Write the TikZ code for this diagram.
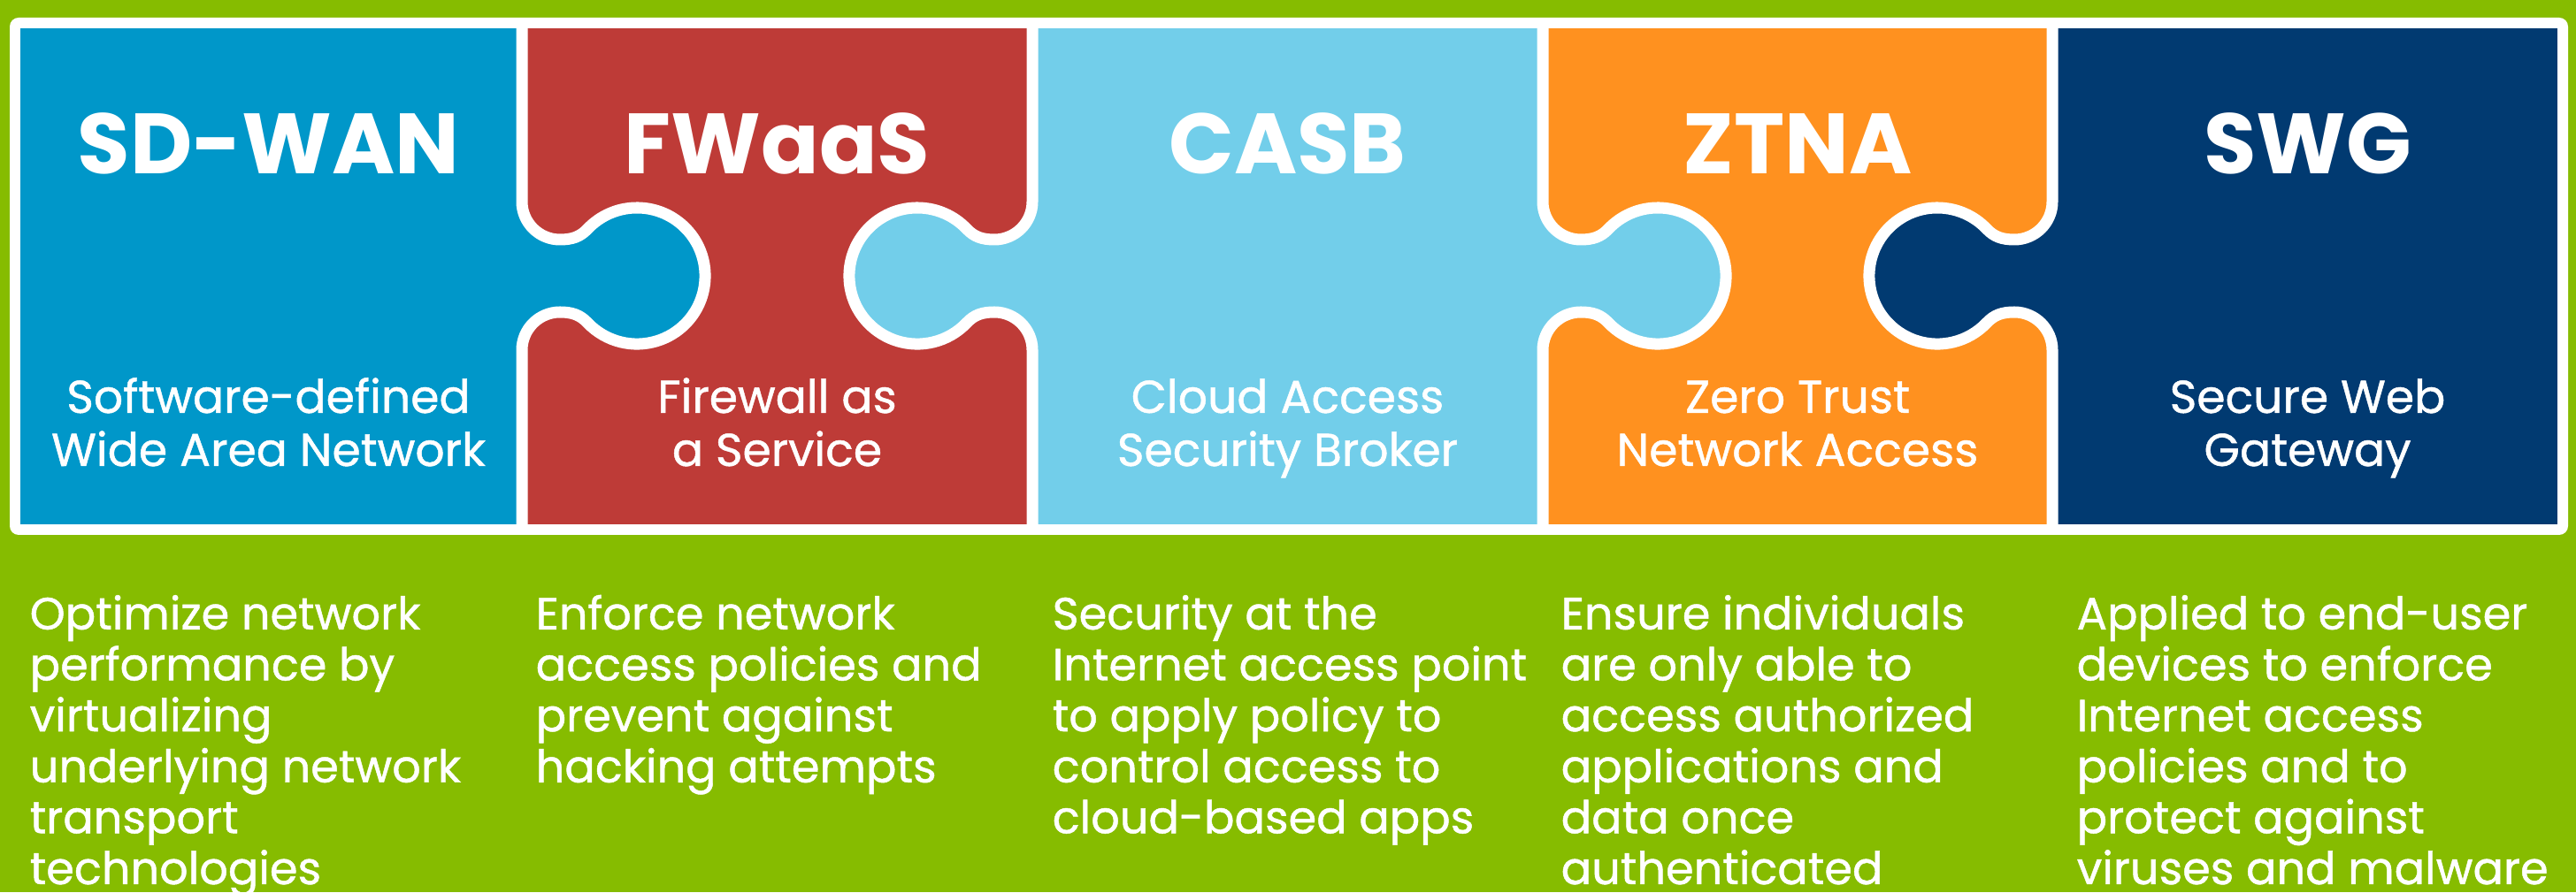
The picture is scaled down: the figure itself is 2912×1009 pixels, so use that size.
\documentclass[tikz,border=0pt]{standalone}
\usepackage{fontspec}
\setmainfont{Poppins}
\newfontfamily\medfont{Poppins}[BoldFont={Poppins},BoldFeatures={FakeBold=0.9}]
\definecolor{bggreen}{HTML}{86BC00}
\definecolor{cwan}{HTML}{0097C9}
\definecolor{cfw}{HTML}{BE3B37}
\definecolor{ccasb}{HTML}{72CEEA}
\definecolor{cztna}{HTML}{FF911F}
\definecolor{cswg}{HTML}{013A71}
\newcommand\puzzleedge[3]{%
  \begin{scope}[shift={(#1,697)},xscale=#2]
    \fill[#3] (0,84) .. controls (0,60.25) and (19.25,41) .. (43,41)
      .. controls (57,41) and (65.9,44.3) .. (74.15,53)
      arc[start angle=136.5,end angle=-136.5,radius=0.77cm]
      .. controls (65.9,-44.3) and (57,-41) .. (43,-41)
      .. controls (19.25,-41) and (0,-60.25) .. (0,-84) -- cycle;
    \draw[sepline] (0,290) -- (0,84) .. controls (0,60.25) and (19.25,41) .. (43,41)
      .. controls (57,41) and (65.9,44.3) .. (74.15,53)
      arc[start angle=136.5,end angle=-136.5,radius=0.77cm]
      .. controls (65.9,-44.3) and (57,-41) .. (43,-41)
      .. controls (19.25,-41) and (0,-60.25) .. (0,-84) -- (0,-290);
  \end{scope}}
\begin{document}
\begin{tikzpicture}[x=0.01cm,y=0.01cm,
  sepline/.style={draw=white,line width=0.13cm},
  title/.style={text=white,font=\bfseries\fontsize{27.5}{30}\selectfont,anchor=base,inner sep=0pt},
  sub/.style={text=white,font=\medfont\bfseries\fontsize{14.8}{17.07}\selectfont,align=center,anchor=base,inner sep=0pt},
  body/.style={text=white,font=\medfont\bfseries\fontsize{14.5}{16.39}\selectfont,align=left,anchor=base west,inner sep=0pt}]
\fill[bggreen] (0,0) rectangle (2912,1009);
\useasboundingbox (0,0) rectangle (2912,1009);
\fill[white,rounded corners=0.1cm] (11,404) rectangle (2903,989);
\fill[cwan] (23,416) rectangle (590,977);
\fill[cfw] (590,416) rectangle (1167,977);
\fill[ccasb] (1167,416) rectangle (1744,977);
\fill[cztna] (1744,416) rectangle (2320,977);
\fill[cswg] (2320,416) rectangle (2891,977);
\puzzleedge{590}{1}{cwan}
\puzzleedge{1167}{-1}{ccasb}
\puzzleedge{1744}{1}{ccasb}
\puzzleedge{2320}{-1}{cswg}
% titles
\node[title] (t1) at (303.5,812) {SD-WAN};
\node[title] (t2) at (878.5,812) {FWaaS};
\node[title] (t3) at (1455.5,812) {CASB};
\node[title] (t4) at (2032,812) {ZTNA};
\node[title] (t5) at (2608.5,812) {SWG};
% subtitles (anchor = baseline of the last line)
\node[sub] (s1) at (303.5,482) {Software-defined\\Wide Area Network};
\node[sub] (s2) at (878.5,482) {Firewall as\\a Service};
\node[sub] (s3) at (1455.5,482) {Cloud Access\\Security Broker};
\node[sub] (s4) at (2032,482) {Zero Trust\\Network Access};
\node[sub] (s5) at (2608.5,482) {Secure Web\\Gateway};
% descriptions (anchor = baseline of the last line)
\node[body] (d1) at (33,9) {Optimize network\\performance by\\virtualizing\\underlying network\\transport\\technologies};
\node[body] (d2) at (605,124.2) {Enforce network\\access policies and\\prevent against\\hacking attempts};
\node[body] (d3) at (1189,66.6) {Security at the\\Internet access point\\to apply policy to\\control access to\\cloud-based apps};
\node[body] (d4) at (1764,9) {Ensure individuals\\are only able to\\access authorized\\applications and\\data once\\authenticated};
\node[body] (d5) at (2347,9) {Applied to end-user\\devices to enforce\\Internet access\\policies and to\\protect against\\viruses and malware};
\end{tikzpicture}
\end{document}
